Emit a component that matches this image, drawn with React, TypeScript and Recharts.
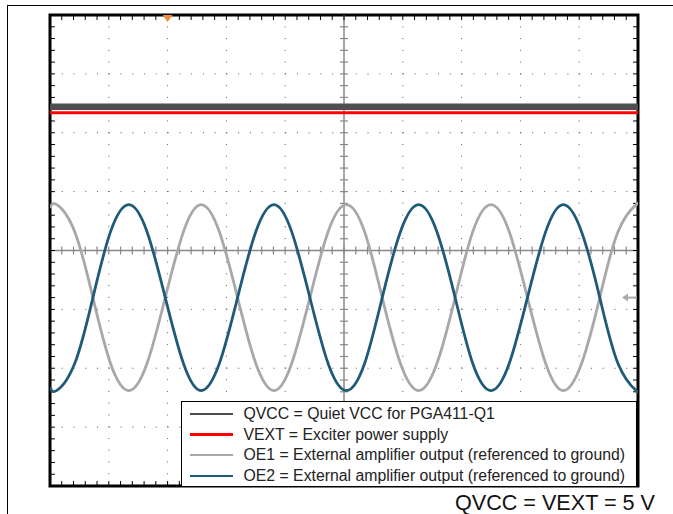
import React from "react";
import {
  LineChart,
  Line,
  XAxis,
  YAxis,
  ReferenceLine,
  ReferenceArea,
  ReferenceDot,
} from "recharts";

// ─── Data (graticule divisions: 10 across, 8 tall, 0 = centre line) ────────

const waveTime = [
  0, 0.11, 0.42, 0.73, 1.03, 1.34, 1.65, 1.96, 2.27, 2.57, 2.88, 3.19, 3.5,
  3.81, 4.11, 4.42, 4.73, 5.04, 5.35, 5.65, 5.96, 6.27, 6.58, 6.89, 7.19, 7.5,
  7.81, 8.12, 8.43, 8.73, 9.04, 9.35, 9.66, 9.97, 10,
];

const oe1Values = [
  0.72, 0.78, 0.32, -0.8, -1.92, -2.38, -1.92, -0.8, 0.32, 0.78, 0.32, -0.8,
  -1.92, -2.38, -1.92, -0.8, 0.32, 0.78, 0.32, -0.8, -1.92, -2.38, -1.92, -0.8,
  0.32, 0.78, 0.32, -0.8, -1.92, -2.38, -1.92, -0.8, 0.32, 0.78, 0.77,
];

const oe2Values = [
  -2.32, -2.38, -1.92, -0.8, 0.32, 0.78, 0.32, -0.8, -1.92, -2.38, -1.92, -0.8,
  0.32, 0.78, 0.32, -0.8, -1.92, -2.38, -1.92, -0.8, 0.32, 0.78, 0.32, -0.8,
  -1.92, -2.38, -1.92, -0.8, 0.32, 0.78, 0.32, -0.8, -1.92, -2.38, -2.37,
];

const railTime = [0, 10];
const qvccValues = [2.44, 2.44];
const vextValues = [2.34, 2.34];

const triggerPos = { t: 2, v: 4 };
const groundPos = { t: 10, v: -0.8 };

const legendItems = [
  { label: "QVCC = Quiet VCC for PGA411-Q1", color: "#4d4d4d" },
  { label: "VEXT = Exciter power supply", color: "#ff0000" },
  { label: "OE1 = External amplifier output (referenced to ground)", color: "#a8a8a8" },
  { label: "OE2 = External amplifier output (referenced to ground)", color: "#1f5b78" },
];

const toPoints = (ts: number[], vs: number[]) => ts.map((t, i) => ({ t, v: vs[i] }));

// ─── Graticule helpers ───────────────────────────────────────────────────────

const steps = (from: number, to: number, step: number) => {
  const out: number[] = [];
  for (let v = from + step; v < to - 1e-6; v += step) out.push(Math.round(v * 100) / 100);
  return out;
};

const minorX = steps(0, 10, 0.2);
const minorY = steps(-4, 4, 0.2);
const majorX = [1, 2, 3, 4, 6, 7, 8, 9];
const majorY = [-3, -2, -1, 1, 2, 3];

const EDGE = 0.085;
const CROSS = 0.068;

const TriggerMark = ({ cx, cy }: any) => (
  <path d={`M ${cx - 5} ${cy} L ${cx + 5} ${cy} L ${cx} ${cy + 7} Z`} fill="#f28a3c" />
);

const GroundMark = ({ cx, cy }: any) => (
  <g>
    <line x1={cx - 12} y1={cy} x2={cx - 1} y2={cy} stroke="#aaa" strokeWidth={2} />
    <path d={`M ${cx - 16} ${cy} L ${cx - 10} ${cy - 4} L ${cx - 10} ${cy + 4} Z`} fill="#aaa" />
  </g>
);

export default function App() {
  return (
    <div
      style={{
        position: "absolute",
        left: 0,
        top: 0,
        width: 673,
        height: 514,
        overflow: "hidden",
        background: "#fff",
        fontFamily: "'Liberation Sans', Arial, sans-serif",
      }}
    >
      {/* outer frame */}
      <div
        style={{
          position: "absolute",
          left: 7,
          top: 5,
          width: 720,
          height: 560,
          borderLeft: "1.5px solid #000",
          borderTop: "1.5px solid #000",
        }}
      />
      <div style={{ position: "absolute", left: 0, top: 0 }}>
        <LineChart width={673} height={514} margin={{ top: 15, right: 35, bottom: 28, left: 50 }}>
          <XAxis type="number" dataKey="t" domain={[0, 10]} allowDataOverflow hide />
          <YAxis type="number" domain={[-4, 4]} allowDataOverflow hide />

          {/* dotted graticule */}
          {majorX.map((x) => (
            <ReferenceLine key={`gx${x}`} x={x} stroke="#555" strokeWidth={1} strokeDasharray="1 10.76" />
          ))}
          {majorY.map((y) => (
            <ReferenceLine key={`gy${y}`} y={y} stroke="#555" strokeWidth={1} strokeDasharray="1 10.76" />
          ))}

          {/* centre crosshair */}
          <ReferenceLine x={5} stroke="#888" strokeWidth={1.5} />
          <ReferenceLine y={0} stroke="#888" strokeWidth={1.5} />
          {minorX.map((x) => (
            <ReferenceLine
              key={`cx${x}`}
              segment={[{ x, y: -CROSS }, { x, y: CROSS }]}
              stroke="#888"
              strokeWidth={1.2}
            />
          ))}
          {minorY.map((y) => (
            <ReferenceLine
              key={`cy${y}`}
              segment={[{ x: 5 - CROSS, y }, { x: 5 + CROSS, y }]}
              stroke="#888"
              strokeWidth={1.2}
            />
          ))}

          {/* edge ticks */}
          {minorX.map((x) => (
            <ReferenceLine key={`et${x}`} segment={[{ x, y: 4 }, { x, y: 4 - EDGE }]} stroke="#000" strokeWidth={1} />
          ))}
          {minorX.map((x) => (
            <ReferenceLine key={`eb${x}`} segment={[{ x, y: -4 }, { x, y: -4 + EDGE }]} stroke="#000" strokeWidth={1} />
          ))}
          {minorY.map((y) => (
            <ReferenceLine key={`el${y}`} segment={[{ x: 0, y }, { x: EDGE, y }]} stroke="#000" strokeWidth={1} />
          ))}
          {minorY.map((y) => (
            <ReferenceLine key={`er${y}`} segment={[{ x: 10, y }, { x: 10 - EDGE, y }]} stroke="#000" strokeWidth={1} />
          ))}

          <Line
            data={toPoints(railTime, qvccValues)}
            dataKey="v"
            type="linear"
            stroke="#4f4f4f"
            strokeWidth={6.5}
            dot={false}
            isAnimationActive={false}
          />
          <Line
            data={toPoints(railTime, vextValues)}
            dataKey="v"
            type="linear"
            stroke="#ff0000"
            strokeWidth={3}
            dot={false}
            isAnimationActive={false}
          />
          <Line
            data={toPoints(waveTime, oe1Values)}
            dataKey="v"
            type="natural"
            stroke="#a8a8a8"
            strokeWidth={2.8}
            dot={false}
            isAnimationActive={false}
          />
          <Line
            data={toPoints(waveTime, oe2Values)}
            dataKey="v"
            type="natural"
            stroke="#1f5b78"
            strokeWidth={2.8}
            dot={false}
            isAnimationActive={false}
          />

          <ReferenceArea x1={0} x2={10} y1={-4} y2={4} fill="none" fillOpacity={0} stroke="#000" strokeWidth={3} />
          <ReferenceDot x={triggerPos.t} y={triggerPos.v} shape={<TriggerMark />} />
          <ReferenceDot x={groundPos.t} y={groundPos.v} shape={<GroundMark />} />
        </LineChart>
      </div>

      {/* legend box */}
      <div
        style={{
          position: "absolute",
          left: 181,
          top: 401,
          width: 454,
          height: 82,
          border: "1.5px solid #000",
          background: "#fff",
          paddingTop: 1.5,
          boxSizing: "content-box",
        }}
      >
        {legendItems.map((item) => (
          <div
            key={item.label}
            style={{ display: "flex", alignItems: "center", height: 20.7, paddingLeft: 7.5 }}
          >
            <span
              style={{ display: "inline-block", width: 43, height: 2.5, background: item.color, marginRight: 11 }}
            />
            <span style={{ fontSize: 15.8, color: "#222", whiteSpace: "nowrap" }}>{item.label}</span>
          </div>
        ))}
      </div>

      {/* footnote */}
      <div
        style={{
          position: "absolute",
          right: 18,
          top: 492,
          fontSize: 21.6,
          lineHeight: "22px",
          color: "#111",
          whiteSpace: "nowrap",
        }}
      >
        QVCC = VEXT = 5 V
      </div>
    </div>
  );
}
